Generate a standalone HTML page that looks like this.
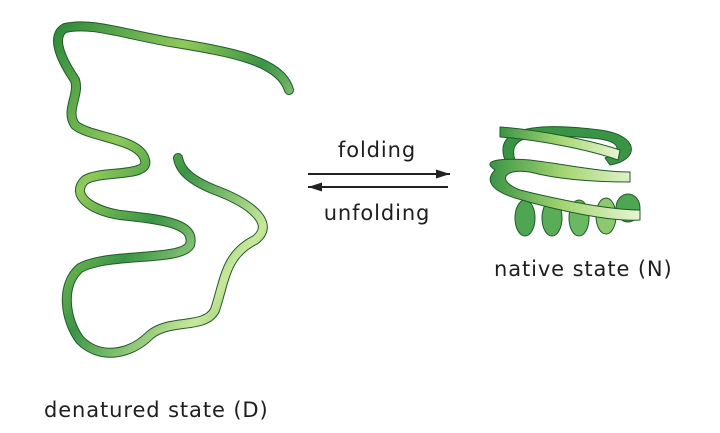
<!DOCTYPE html>
<html><head><style>
body{margin:0;width:720px;height:433px;background:#fff;overflow:hidden}
svg{position:absolute;left:0;top:0}
text{font-family:"DejaVu Sans","Liberation Sans",sans-serif;fill:#1e1e1e;letter-spacing:0.9px}
</style></head><body>
<svg width="720" height="433" viewBox="0 0 720 433">
<defs>
<linearGradient id="g" x1="0" y1="0" x2="1" y2="1">
<stop offset="0" stop-color="#2f8a3c"/><stop offset=".3" stop-color="#8fc85a"/><stop offset=".5" stop-color="#3a9445"/><stop offset=".75" stop-color="#c8e89a"/><stop offset="1" stop-color="#2f8a3c"/>
</linearGradient>
<linearGradient id="h" x1="0" y1="0" x2="1" y2="0">
<stop offset="0" stop-color="#3a9445"/><stop offset=".5" stop-color="#a6d672"/><stop offset="1" stop-color="#e8f5d6"/>
</linearGradient>
</defs>
<g fill="none" stroke-linecap="round" stroke-linejoin="round">
<path d="M289,90 C280,60 230,52 170,42 C120,33 90,22 65,28 C52,35 58,55 75,80 C80,95 65,110 75,125 C90,138 140,138 145,160 C150,178 100,170 85,180 C70,195 90,210 120,215 C170,220 195,225 190,245 C180,262 110,252 80,268 C60,285 65,320 80,340 C100,360 130,355 150,335 C170,318 205,330 215,310 C225,280 225,255 255,240 C275,225 255,205 215,190 C190,180 180,170 178,158" stroke="#1f5a28" stroke-width="10"/>
<path d="M289,90 C280,60 230,52 170,42 C120,33 90,22 65,28 C52,35 58,55 75,80 C80,95 65,110 75,125 C90,138 140,138 145,160 C150,178 100,170 85,180 C70,195 90,210 120,215 C170,220 195,225 190,245 C180,262 110,252 80,268 C60,285 65,320 80,340 C100,360 130,355 150,335 C170,318 205,330 215,310 C225,280 225,255 255,240 C275,225 255,205 215,190 C190,180 180,170 178,158" stroke="url(#g)" stroke-width="8"/>
<g stroke="#1f5a28" stroke-width="1">
<ellipse cx="525" cy="218" rx="10" ry="18" fill="#4ea552"/>
<ellipse cx="552" cy="218" rx="10" ry="18" fill="#5aad58"/>
<ellipse cx="579" cy="218" rx="10" ry="18" fill="#6ab862"/>
<ellipse cx="606" cy="216" rx="10" ry="18" fill="#8cc86e"/>
<ellipse cx="628" cy="208" rx="12" ry="14" fill="#4ea552"/>
<path d="M505,160 C490,120 560,125 600,130 C640,135 640,160 610,165 L605,158 C625,150 620,140 590,138 C550,135 505,130 515,160z" fill="#3a9445"/>
<path d="M500,127 C540,130 590,140 620,150 L618,160 C590,150 540,140 500,137z" fill="url(#h)"/>
<path d="M495,170 C480,160 500,158 530,160 C570,165 600,172 630,172 L630,182 C600,182 560,180 530,172 C505,168 495,180 520,190 C560,200 610,210 640,210 L640,220 C610,222 555,210 515,198 C490,190 485,180 495,170z" fill="url(#h)"/>
</g>
</g>
<line x1="308" y1="174" x2="450" y2="174" stroke="#222" stroke-width="2"/>
<path d="M450,174L436,169.5L436,178.5z" fill="#222"/>
<line x1="448" y1="187" x2="308" y2="187" stroke="#222" stroke-width="2"/>
<path d="M308,187L322,182.5L322,191.5z" fill="#222"/>
<text x="377" y="157" font-size="21" text-anchor="middle">folding</text>
<text x="377" y="220" font-size="21" text-anchor="middle">unfolding</text>
<text x="494" y="276" font-size="21">native state (N)</text>
<text x="44" y="417" font-size="21">denatured state (D)</text>
</svg>
</body></html>
